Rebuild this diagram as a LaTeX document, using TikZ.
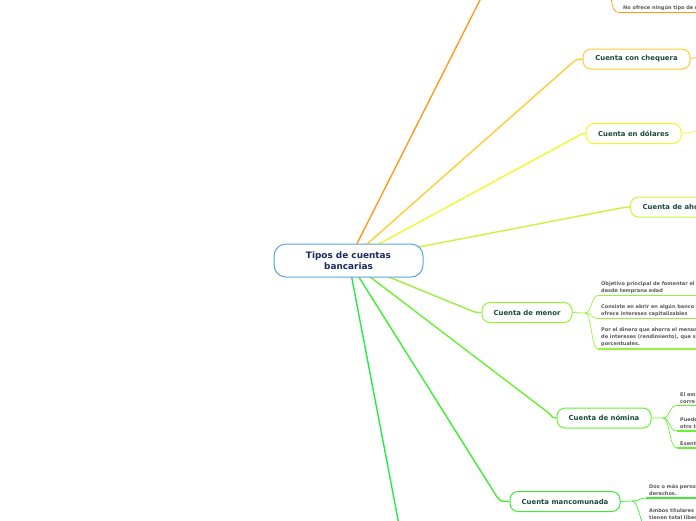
\documentclass[tikz,border=0pt]{standalone}
\usepackage{fontspec}
\setmainfont{DejaVu Sans}
\usetikzlibrary{positioning,backgrounds}

\definecolor{azulraiz}{HTML}{5AA5E0}
\definecolor{textoraiz}{HTML}{1A2B5E}
\definecolor{textocuenta}{HTML}{1B4A3A}
\definecolor{textonota}{HTML}{585858}
\definecolor{naranja}{HTML}{FF9A1A}
\definecolor{chequeraC}{HTML}{FFCC33}
\definecolor{dolaresC}{HTML}{F5F52A}
\definecolor{ahorroC}{HTML}{C8F53C}
\definecolor{menorC}{HTML}{99F23A}
\definecolor{nominaC}{HTML}{66F233}
\definecolor{mancoC}{HTML}{40EC33}
\definecolor{verdeC}{HTML}{22EC44}

\begin{document}
\begin{tikzpicture}[x=1pt, y=-1pt]
	% Estilos comunes
	\tikzset{
		raiz/.style={
			draw=azulraiz,
			fill=white,
			line width=1pt,
			rounded corners=12pt,
			minimum width=149pt,
			minimum height=33pt,
			align=center,
			text=textoraiz,
			font=\bfseries\fontsize{8.9}{11.5}\selectfont
		},
		cuenta/.style={
			draw=#1,
			fill=white,
			line width=1pt,
			rounded corners=8pt,
			minimum height=20pt,
			inner xsep=3pt,
			text=textocuenta,
			font=\bfseries\fontsize{6.9}{8}\selectfont
		},
		rama/.style={draw=#1, line width=1.4pt},
		sub/.style={draw=#1, line width=0.7pt},
		raya/.style={draw=#1, line width=1.8pt},
		nota/.style={anchor=south west, align=left, inner sep=0pt, text=textonota, font=\bfseries\fontsize{5}{7}\selectfont}
	}
	
	\useasboundingbox (0,0) rectangle (696,520);
	
	% Nodo central y cuentas
	\node[raiz] (tipos) at (348.5,260.5) {Tipos de cuentas\\bancarias};
	\node[cuenta=chequeraC, minimum width=107pt] (chequera) at (636.5,59) {Cuenta con chequera};
	\node[cuenta=dolaresC, minimum width=95pt] (dolares) at (633.5,133.5) {Cuenta en dólares};
	\node[cuenta=ahorroC, minimum width=92pt, anchor=west] (ahorro) at (630,207) {Cuenta de ahorro};
	\node[cuenta=menorC, minimum width=90pt] (menor) at (527,312.5) {Cuenta de menor};
	\node[cuenta=nominaC, minimum width=94pt] (nomina) at (604,418) {Cuenta de nómina};
	\node[cuenta=mancoC, minimum width=110pt] (manco) at (565,501.5) {Cuenta mancomunada};
	
	% Ramas principales (debajo del nodo central)
	\coordinate (arriba) at (482,-4);
	\coordinate (abajo) at (400,530);
	\begin{scope}[on background layer]
		\draw[rama=naranja] (tipos.center) -- (arriba);
		\draw[rama=chequeraC] (tipos.center) -- (572,63) .. controls (576,59.5) .. (chequera.west);
		\draw[rama=dolaresC] (tipos.center) -- (578,136) .. controls (582,133.5) .. (dolares.west);
		\draw[rama=ahorroC] (tipos.center) -- (621,208) .. controls (625,207) .. (ahorro.west);
		\draw[rama=menorC] (tipos.center) -- (472,311) .. controls (476,312.5) .. (menor.west);
		\draw[rama=nominaC] (tipos.center) -- (550,414) .. controls (553,418) .. (nomina.west);
		\draw[rama=mancoC] (tipos.center) -- (497,497) .. controls (501,501.5) .. (manco.west);
		\draw[rama=verdeC] (tipos.center) -- (abajo);
	\end{scope}
	
	% Rama de arriba (fuera de la hoja)
	\coordinate (t0) at (611,-4);
	\coordinate (t1) at (619,12.5);
	\draw[sub=naranja] (t0) .. controls (612,8) and (614,12.5) .. (t1);
	\draw[raya=naranja] (t1) -- ++(80,0);
	\node[nota] (n0) at (623,11) {No ofrece ningún tipo de r};
	
	% Continuaciones a la derecha
	\coordinate (c1) at (700,56);
	\coordinate (c2) at (700,131);
	\draw[sub=chequeraC] (chequera.east) -- (c1);
	\draw[sub=dolaresC] (dolares.east) -- (c2);
	
	% Cuenta de menor
	\coordinate (mb) at (585,313);
	\coordinate (m1) at (598,295.5);
	\coordinate (m2) at (598,318.5);
	\coordinate (m3) at (598,349);
	\draw[sub=menorC] (menor.east) -- (mb) .. controls (592,313) and (591,295.5) .. (m1);
	\draw[sub=menorC] (mb) .. controls (592,313) and (591,318.5) .. (m2);
	\draw[sub=menorC] (mb) .. controls (592,313) and (591,349) .. (m3);
	\draw[raya=menorC] (m1) -- ++(100,0);
	\draw[raya=menorC] (m2) -- ++(100,0);
	\draw[raya=menorC] (m3) -- ++(100,0);
	\node[nota] (n1) at (601,293.5) {Objetivo principal de fomentar el h\\desde temprana edad};
	\node[nota] (n2) at (601,316.5) {Consiste en abrir en algún banco u\\ofrece intereses capitalizables};
	\node[nota] (n3) at (601,347) {Por el dinero que ahorra el menor se\\de intereses (rendimiento), que se\\porcentuales.};
	
	% Cuenta de nómina
	\coordinate (nb) at (663,418);
	\coordinate (p1) at (677,405.5);
	\coordinate (p2) at (677,431);
	\coordinate (p3) at (677,448);
	\draw[sub=nominaC] (nomina.east) -- (nb) .. controls (670,418) and (669,405.5) .. (p1);
	\draw[sub=nominaC] (nb) .. controls (670,418) and (669,431) .. (p2);
	\draw[sub=nominaC] (nb) .. controls (670,418) and (669,448) .. (p3);
	\draw[raya=nominaC] (p1) -- ++(30,0);
	\draw[raya=nominaC] (p2) -- ++(30,0);
	\draw[raya=nominaC] (p3) -- ++(30,0);
	\node[nota] (n4) at (680,403.5) {El em\\corre};
	\node[nota] (n5) at (680,429) {Puede\\otro t};
	\node[nota] (n6) at (680,446) {Exent};
	
	% Cuenta mancomunada
	\coordinate (qb) at (632,501);
	\coordinate (q1) at (646,498);
	\coordinate (q2) at (646,526);
	\draw[sub=mancoC] (manco.east) -- (qb) .. controls (639,501) and (640,498) .. (q1);
	\draw[sub=mancoC] (qb) .. controls (639,501) and (640,526) .. (q2);
	\draw[raya=mancoC] (q1) -- ++(60,0);
	\node[nota] (n7) at (649,496) {Dos o más perso\\derechos.};
	\node[nota] (n8) at (649,519.5) {Ambos titulares\\tienen total liber};
\end{tikzpicture}
\end{document}
